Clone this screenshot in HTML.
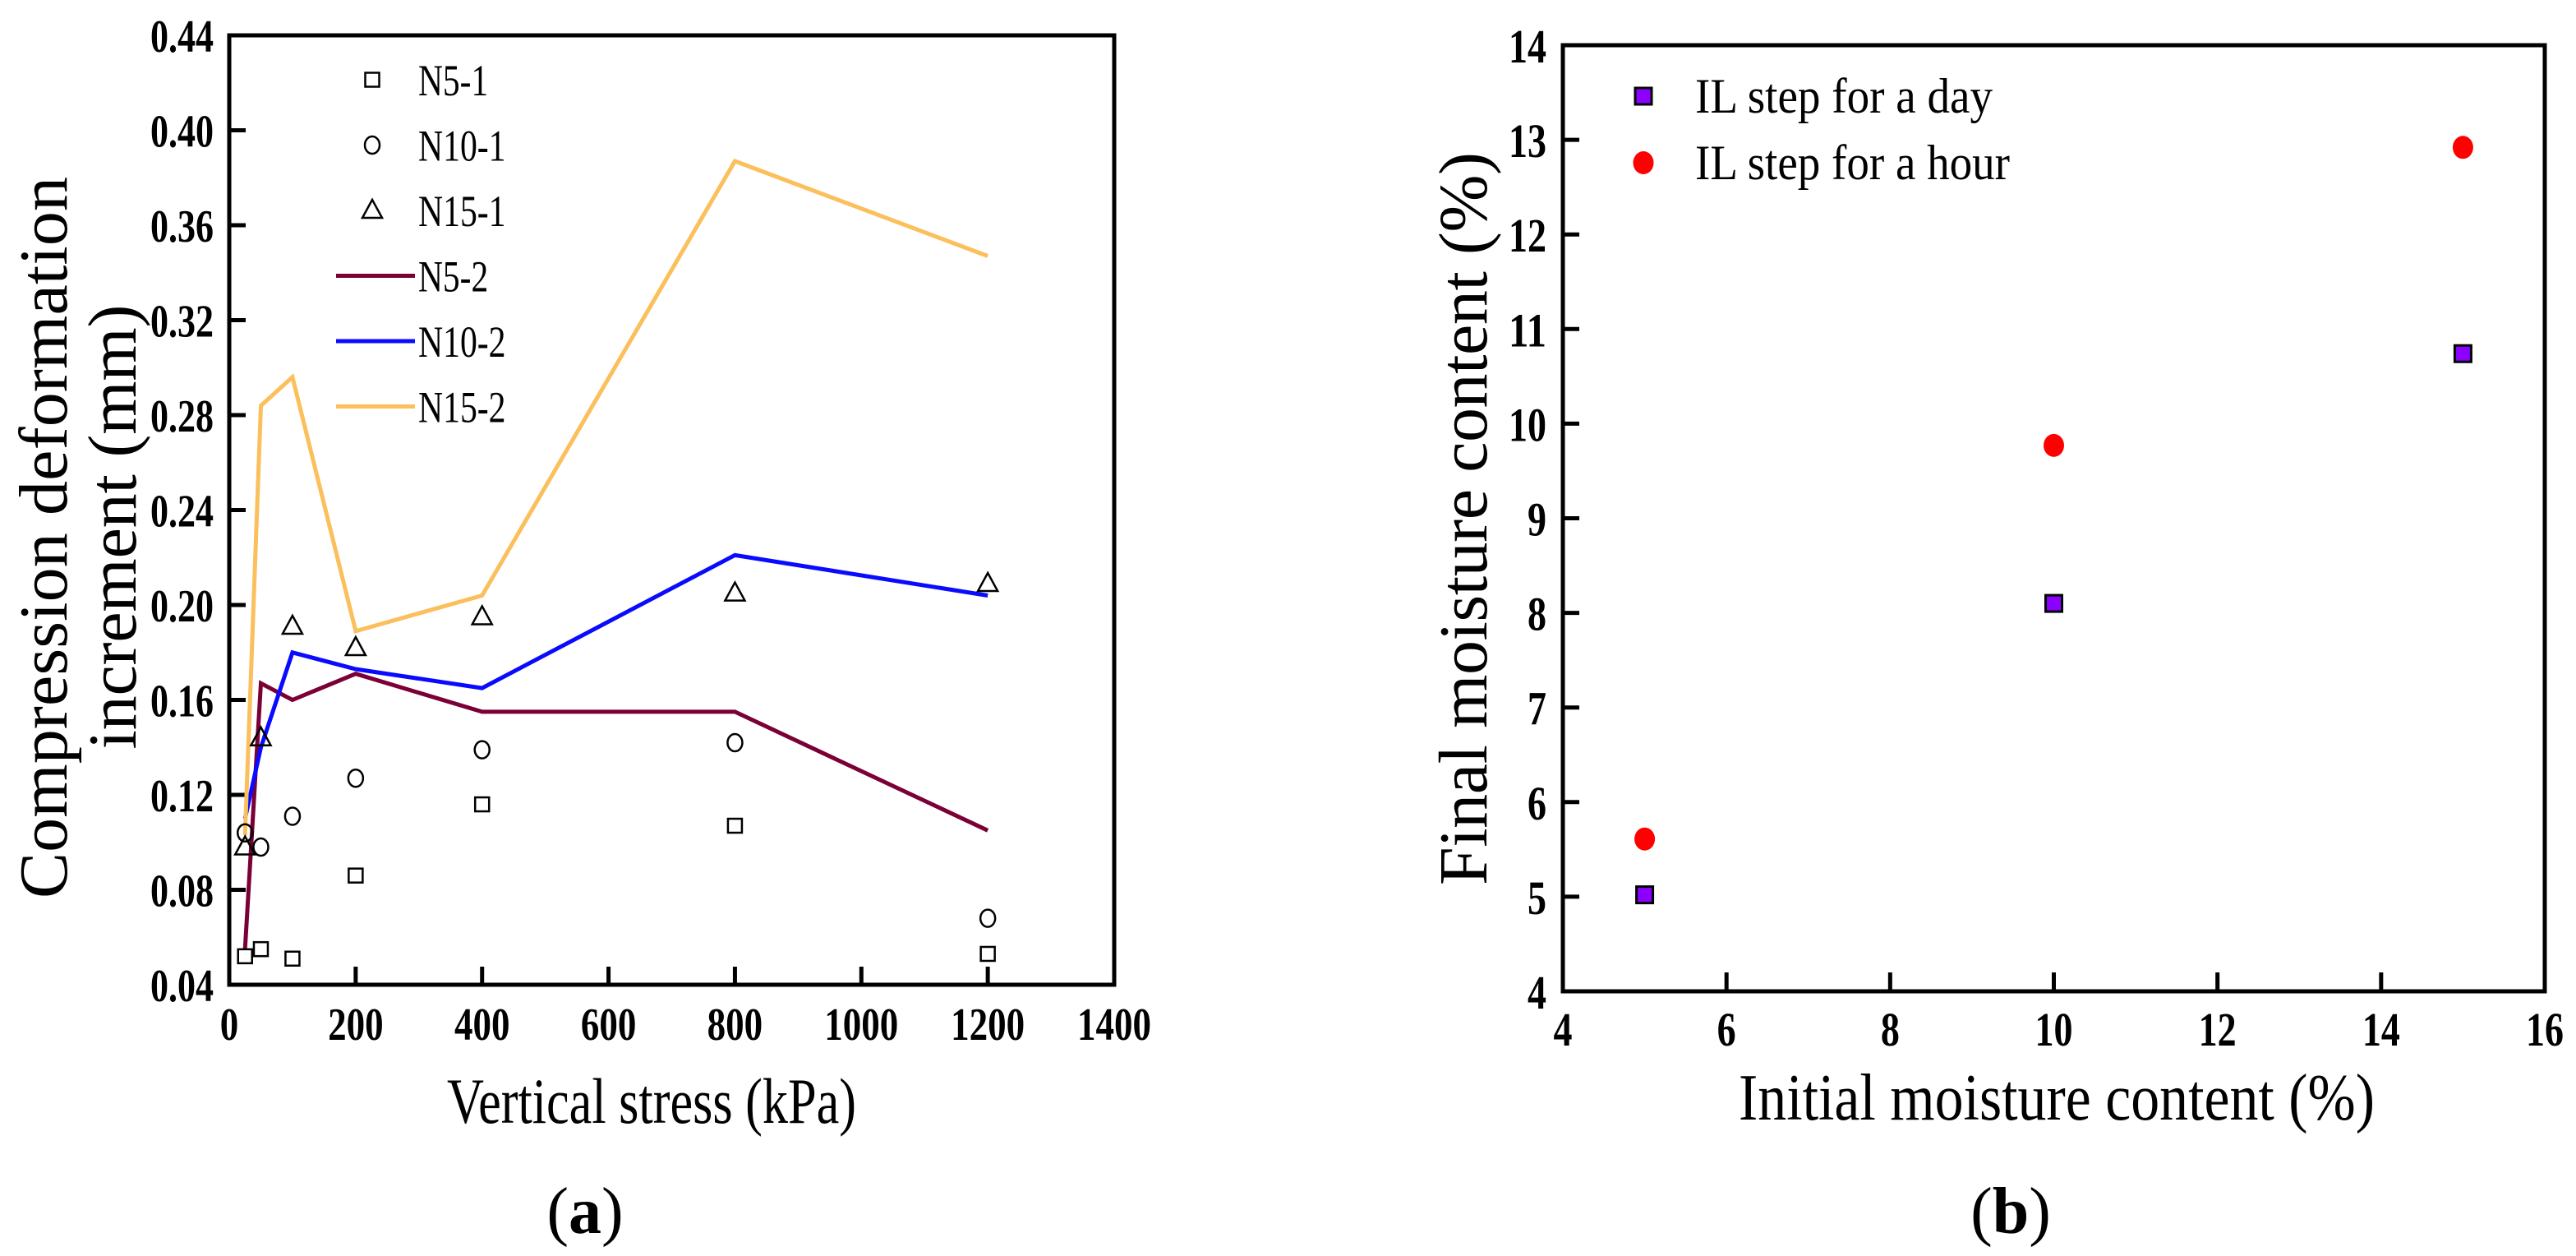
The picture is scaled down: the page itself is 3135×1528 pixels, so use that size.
<!DOCTYPE html>
<html><head><meta charset="utf-8"><style>
html,body{margin:0;padding:0;background:#fff;}
svg{display:block;font-family:"Liberation Serif",serif;}
</style></head><body>
<svg id="fig" width="3135" height="1528" viewBox="0 0 3135 1528" xmlns="http://www.w3.org/2000/svg">
<g id="ca"></g>
<g id="cb"></g>
</svg>
<script>
// ---- Chart (a) data ----
const aX = [25, 50, 100, 200, 400, 800, 1200];
const aN51 = [0.052, 0.055, 0.051, 0.086, 0.116, 0.107, 0.053];
const aN101 = [0.104, 0.098, 0.111, 0.127, 0.139, 0.142, 0.068];
const aN151 = [0.098, 0.144, 0.191, 0.182, 0.195, 0.205, 0.209];
const aN52 = [0.055, 0.167, 0.160, 0.171, 0.155, 0.155, 0.105];
const aN102 = [0.110, 0.140, 0.180, 0.173, 0.165, 0.221, 0.204];
const aN152 = [0.103, 0.284, 0.296, 0.189, 0.204, 0.387, 0.347];
const aXTicks = [0, 200, 400, 600, 800, 1000, 1200, 1400];
const aYTicks = [0.04, 0.08, 0.12, 0.16, 0.20, 0.24, 0.28, 0.32, 0.36, 0.40, 0.44];
// ---- Chart (b) data ----
const bX = [5, 10, 15];
const bDay = [5.02, 8.10, 10.74];
const bHour = [5.61, 9.77, 12.92];
const bXTicks = [4, 6, 8, 10, 12, 14, 16];
const bYTicks = [4, 5, 6, 7, 8, 9, 10, 11, 12, 13, 14];

const NS = "http://www.w3.org/2000/svg";
function mk(parent, tag, attrs, text) {
  const e = document.createElementNS(NS, tag);
  for (const k in attrs) e.setAttribute(k, attrs[k]);
  if (text !== undefined) e.textContent = text;
  parent.appendChild(e);
  return e;
}

// ===== Chart A =====
const A = {l: 279, r: 1356, t: 43, b: 1198, x0: 0, x1: 1400, y0: 0.04, y1: 0.44};
const ax = v => A.l + (v - A.x0) / (A.x1 - A.x0) * (A.r - A.l);
const ay = v => A.b - (v - A.y0) / (A.y1 - A.y0) * (A.b - A.t);
const ga = document.getElementById('ca');

aXTicks.forEach(v => {
  const t = mk(ga, 'line', {x1: ax(v), x2: ax(v), y1: A.b, y2: A.b - 22, stroke: '#000', 'stroke-width': 5});
  
  
  const s = String(v);
  const l = mk(ga, 'text', {x: ax(v), y: 1265, 'text-anchor': 'middle', 'font-size': 56, 'font-weight': 'bold', textLength: s.length * 22.5, lengthAdjust: 'spacingAndGlyphs'}, s);
  
  
});
aYTicks.forEach(v => {
  const t = mk(ga, 'line', {x1: A.l, x2: A.l + 20, y1: ay(v), y2: ay(v), stroke: '#000', 'stroke-width': 5});
  
  
  const s = v.toFixed(2);
  const l = mk(ga, 'text', {x: 260, y: ay(v) + 20, 'text-anchor': 'end', 'font-size': 56, 'font-weight': 'bold', textLength: 77, lengthAdjust: 'spacingAndGlyphs'}, s);
  
  
});
const frA = mk(ga, 'rect', {x: A.l, y: A.t, width: A.r - A.l, height: A.b - A.t, fill: 'none', stroke: '#000', 'stroke-width': 5});



function pathFrom(xs, ys, fx, fy) {
  return xs.map((x, i) => (i ? 'L' : 'M') + fx(x).toFixed(1) + ' ' + fy(ys[i]).toFixed(1)).join(' ');
}
[[aN52, '#7a0036', 'line-n5-2'], [aN102, '#0a0aff', 'line-n10-2'], [aN152, '#fbbf5c', 'line-n15-2']].forEach(([ys, c, n]) => {
  const p = mk(ga, 'path', {d: pathFrom(aX, ys, ax, ay), fill: 'none', stroke: c, 'stroke-width': 5, 'stroke-linejoin': 'miter'});
  
  
});
function sq(g, cx, cy) { return mk(g, 'rect', {x: cx - 8.5, y: cy - 8.5, width: 17, height: 17, fill: '#fff', stroke: '#000', 'stroke-width': 2.5}); }
function ci(g, cx, cy) { return mk(g, 'ellipse', {cx: cx, cy: cy, rx: 9, ry: 10.5, fill: 'none', stroke: '#000', 'stroke-width': 2.5}); }
function tr(g, cx, cy) { return mk(g, 'path', {d: `M${cx} ${cy - 13} L${cx + 12} ${cy + 9} L${cx - 12} ${cy + 9} Z`, fill: 'none', stroke: '#000', 'stroke-width': 2.5}); }
aX.forEach((x, i) => {
  const a = sq(ga, ax(x), ay(aN51[i]));
  
  
  const b = ci(ga, ax(x), ay(aN101[i]));
  
  
  const c = tr(ga, ax(x), ay(aN151[i]));
  
  
});
// legend A
const legA = mk(ga, 'g', {});


const legItems = [['N5-1', 'sq'], ['N10-1', 'ci'], ['N15-1', 'tr'], ['N5-2', '#7a0036'], ['N10-2', '#0a0aff'], ['N15-2', '#fbbf5c']];
legItems.forEach(([lab, k], i) => {
  const y = 97 + i * 79.5;
  let m;
  if (k === 'sq') m = sq(legA, 453, y);
  else if (k === 'ci') m = ci(legA, 453, y);
  else if (k === 'tr') m = tr(legA, 453, y);
  else m = mk(legA, 'line', {x1: 409, x2: 505, y1: y, y2: y, stroke: k, 'stroke-width': 5});
  
  
  const t = mk(legA, 'text', {x: 509, y: y + 19, 'font-size': 54, textLength: lab.length * 21.3, lengthAdjust: 'spacingAndGlyphs'}, lab);
  
  
});
const yt1 = mk(ga, 'text', {transform: 'translate(81,654) rotate(-90)', 'text-anchor': 'middle', 'font-size': 84, textLength: 878, lengthAdjust: 'spacing'}, 'Compression deformation');


const yt2 = mk(ga, 'text', {transform: 'translate(165,641) rotate(-90)', 'text-anchor': 'middle', 'font-size': 84, textLength: 541, lengthAdjust: 'spacing'}, 'increment (mm)');


const xtA = mk(ga, 'text', {x: 793, y: 1366, 'text-anchor': 'middle', 'font-size': 78, textLength: 498, lengthAdjust: 'spacingAndGlyphs'}, 'Vertical stress (kPa)');


const capA = mk(ga, 'text', {x: 712, y: 1500, 'text-anchor': 'middle', 'font-size': 80}, '');
capA.innerHTML = '(<tspan font-weight="bold">a</tspan>)';



// ===== Chart B =====
const B = {l: 1902, r: 3097, t: 55, b: 1206, x0: 4, x1: 16, y0: 4, y1: 14};
const bx = v => B.l + (v - B.x0) / (B.x1 - B.x0) * (B.r - B.l);
const by = v => B.b - (v - B.y0) / (B.y1 - B.y0) * (B.b - B.t);
const gb = document.getElementById('cb');
bXTicks.forEach(v => {
  const t = mk(gb, 'line', {x1: bx(v), x2: bx(v), y1: B.b, y2: B.b - 23, stroke: '#000', 'stroke-width': 5});
  
  
  const s = String(v);
  const l = mk(gb, 'text', {x: bx(v), y: 1272, 'text-anchor': 'middle', 'font-size': 58, 'font-weight': 'bold', textLength: s.length * 23, lengthAdjust: 'spacingAndGlyphs'}, s);
  
  
});
bYTicks.forEach(v => {
  const t = mk(gb, 'line', {x1: B.l, x2: B.l + 20, y1: by(v), y2: by(v), stroke: '#000', 'stroke-width': 5});
  
  
  const s = String(v);
  const l = mk(gb, 'text', {x: 1882, y: by(v) + 21, 'text-anchor': 'end', 'font-size': 58, 'font-weight': 'bold', textLength: s.length * 23, lengthAdjust: 'spacingAndGlyphs'}, s);
  
  
});
const frB = mk(gb, 'rect', {x: B.l, y: B.t, width: B.r - B.l, height: B.b - B.t, fill: 'none', stroke: '#000', 'stroke-width': 5});


function psq(g, cx, cy) { return mk(g, 'rect', {x: cx - 10, y: cy - 10, width: 20, height: 20, fill: '#8c00ff', stroke: '#000', 'stroke-width': 3}); }
function pci(g, cx, cy) { return mk(g, 'ellipse', {cx: cx, cy: cy, rx: 12.5, ry: 14, fill: '#ff0000'}); }
bX.forEach((x, i) => {
  const a = psq(gb, bx(x), by(bDay[i]));
  
  
  const b = pci(gb, bx(x), by(bHour[i]));
  
  
});
const legB = mk(gb, 'g', {});


const lb1 = psq(legB, 2000, 117);


const lb2 = pci(legB, 2000, 198);


const lt1 = mk(legB, 'text', {x: 2063, y: 137, 'font-size': 60, textLength: 362, lengthAdjust: 'spacingAndGlyphs'}, 'IL step for a day');


const lt2 = mk(legB, 'text', {x: 2063, y: 218, 'font-size': 60, textLength: 383, lengthAdjust: 'spacingAndGlyphs'}, 'IL step for a hour');


const ytB = mk(gb, 'text', {transform: 'translate(1809,631) rotate(-90)', 'text-anchor': 'middle', 'font-size': 84, textLength: 892, lengthAdjust: 'spacing'}, 'Final moisture content (%)');


const xtB = mk(gb, 'text', {x: 2503, y: 1362, 'text-anchor': 'middle', 'font-size': 80, textLength: 774, lengthAdjust: 'spacingAndGlyphs'}, 'Initial moisture content (%)');


const capB = mk(gb, 'text', {x: 2447, y: 1500, 'text-anchor': 'middle', 'font-size': 80}, '');
capB.innerHTML = '(<tspan font-weight="bold">b</tspan>)';


</script>
</body></html>
